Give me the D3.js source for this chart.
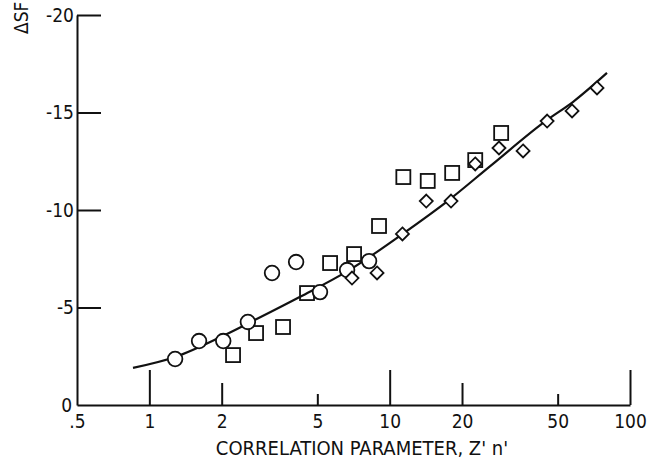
<!DOCTYPE html>
<html>
<head>
<meta charset="utf-8">
<script src="https://cdn.jsdelivr.net/npm/d3@7/dist/d3.min.js"></script>
<style>
  html, body { margin: 0; padding: 0; background: #fff; }
  svg { display: block; }
  text { font-family: "DejaVu Sans Condensed", "DejaVu Sans", sans-serif; font-stretch: condensed; fill: #111; }
</style>
</head>
<body>
<svg id="chart" width="649" height="467"></svg>
<script>
// Axis ticks
const xTickValues = [0.5, 1, 2, 5, 10, 20, 50, 100];
const xTickLabels = [".5", "1", "2", "5", "10", "20", "50", "100"];
const yTickValues = [0, -5, -10, -15, -20];
const yTickLabels = ["0", "-5", "-10", "-15", "-20"];

// Measured points, circles
const circleX = [1.28, 1.61, 2.03, 2.57, 3.24, 4.08, 5.13, 6.65, 8.21];
const circleY = [-2.36, -3.28, -3.28, -4.26, -6.77, -7.33, -5.79, -6.92, -7.38];

// Measured points, squares
const squareX = [2.23, 2.78, 3.60, 4.53, 5.65, 7.11, 9.03, 11.4, 14.4, 18.2, 22.7, 29.1];
const squareY = [-2.56, -3.69, -4.00, -5.74, -7.28, -7.74, -9.18, -11.69, -11.49, -11.90, -12.56, -13.95];

// Measured points, diamonds
const diamondX = [6.97, 8.86, 11.3, 14.2, 18.0, 22.7, 28.5, 35.9, 45.2, 57.4, 72.9];
const diamondY = [-6.51, -6.77, -8.77, -10.46, -10.46, -12.36, -13.18, -13.03, -14.56, -15.08, -16.26];

// Correlation curve
const curveX = [0.855, 1.28, 2.03, 2.81, 4.24, 6.65, 11.3, 17.8, 26.2, 45.2, 58.0, 80.2];
const curveY = [-1.90, -2.46, -3.55, -4.42, -5.55, -6.85, -8.77, -10.55, -12.25, -14.62, -15.55, -17.03];

const svg = d3.select("#chart");
const x = d3.scaleLog().domain([0.5, 100]).range([77, 630]);
const y = d3.scaleLinear().domain([0, -20]).range([405, 15]);
const ink = "#111";

// Horizontal axis: baseline with upward ticks of three lengths
const xAxis = d3.axisBottom(x)
  .tickValues(xTickValues)
  .tickFormat((d, i) => xTickLabels[i])
  .tickSizeInner(0)
  .tickSizeOuter(0)
  .tickPadding(10);
const gx = svg.append("g").attr("transform", `translate(0,${y(0)})`).call(xAxis);
gx.select(".domain").attr("stroke", ink).attr("stroke-width", 2);
gx.selectAll(".tick line").remove();
gx.selectAll(".tick").filter(d => d !== 0.5)
  .append("line")
  .attr("stroke", ink).attr("stroke-width", 2)
  .attr("y1", 0)
  .attr("y2", d => {
    const m = Math.round(d / Math.pow(10, Math.floor(Math.log10(d) + 1e-9)));
    return m === 1 ? -35 : (m === 2 ? -22 : -11);
  });
gx.selectAll(".tick text").attr("font-size", 19).attr("fill", ink);

// Vertical axis: ticks point inward to the plot
const yAxis = d3.axisLeft(y)
  .tickValues(yTickValues)
  .tickFormat((d, i) => yTickLabels[i])
  .tickSizeInner(-24)
  .tickSizeOuter(0)
  .tickPadding(3);
const gy = svg.append("g").attr("transform", `translate(${x(0.5)},0)`).call(yAxis);
gy.select(".domain").attr("stroke", ink).attr("stroke-width", 2);
gy.selectAll(".tick line").attr("stroke", ink).attr("stroke-width", 2);
gy.selectAll(".tick").filter(d => d === 0).select("line").remove();
gy.selectAll(".tick text").attr("font-size", 19).attr("fill", ink);
gy.selectAll(".tick").filter(d => d === 0).select("text").attr("x", -5);

// Axis titles
svg.append("text")
  .attr("x", 362).attr("y", 455)
  .attr("text-anchor", "middle")
  .attr("font-size", 20)
  .text("CORRELATION PARAMETER, Z' n'");

svg.append("text")
  .attr("transform", "translate(28,34) rotate(-90)")
  .attr("text-anchor", "start")
  .attr("font-size", 19)
  .text("ΔSF");

// Correlation curve
const curveData = curveX.map((v, i) => [v, curveY[i]]);
svg.append("path")
  .datum(curveData)
  .attr("fill", "none")
  .attr("stroke", ink)
  .attr("stroke-width", 2.2)
  .attr("d", d3.line().x(d => x(d[0])).y(d => y(d[1])).curve(d3.curveMonotoneX));

// Symbols
const markers = svg.append("g").attr("fill", "#fff").attr("stroke", ink).attr("stroke-width", 1.8);

markers.selectAll(".sq")
  .data(squareX.map((v, i) => [v, squareY[i]]))
  .join("rect")
  .attr("class", "sq")
  .attr("x", d => x(d[0]) - 7).attr("y", d => y(d[1]) - 7)
  .attr("width", 14).attr("height", 14)
  .attr("fill", "none");

markers.selectAll(".ci")
  .data(circleX.map((v, i) => [v, circleY[i]]))
  .join("circle")
  .attr("class", "ci")
  .attr("cx", d => x(d[0])).attr("cy", d => y(d[1]))
  .attr("r", 7.3);

markers.selectAll(".di")
  .data(diamondX.map((v, i) => [v, diamondY[i]]))
  .join("path")
  .attr("class", "di")
  .attr("d", d => {
    const cx = x(d[0]), cy = y(d[1]), r = 6.5;
    return `M${cx},${cy - r}L${cx + r},${cy}L${cx},${cy + r}L${cx - r},${cy}Z`;
  });
</script>
</body>
</html>
